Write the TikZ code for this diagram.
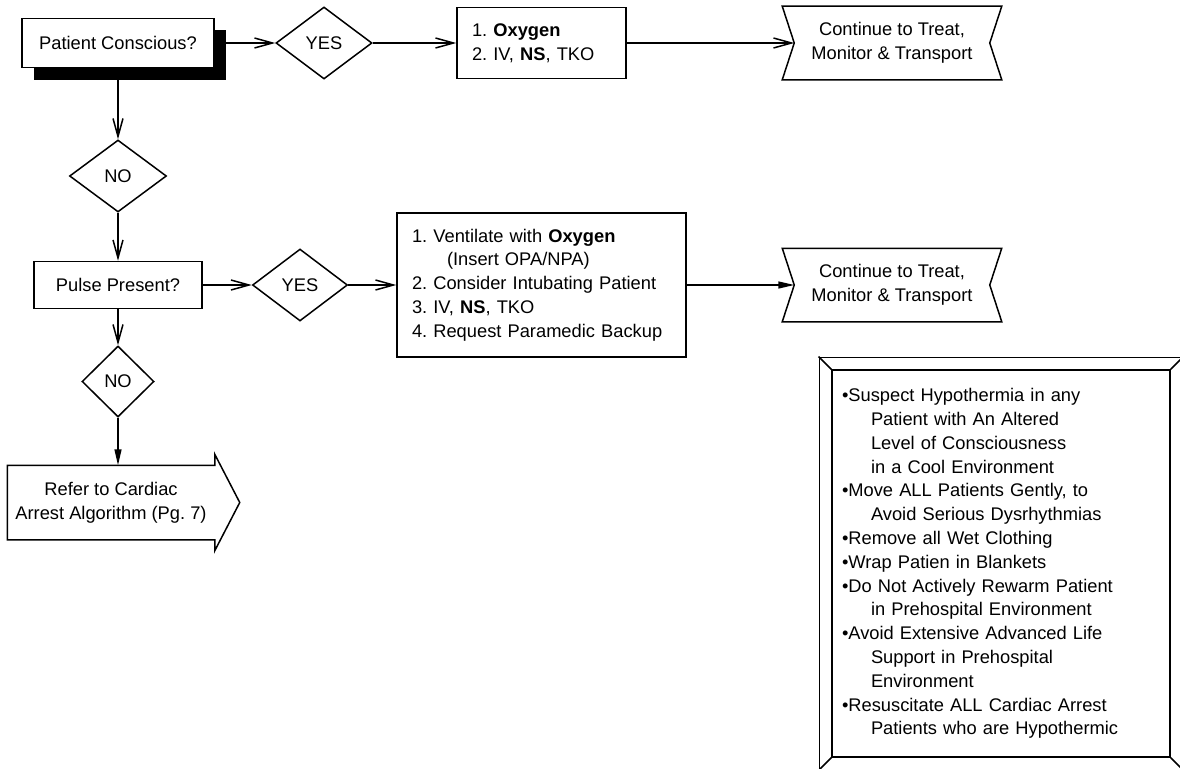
\documentclass[tikz,border=0pt]{standalone}
\usepackage{fontspec}
\setmainfont{Liberation Sans}
\usetikzlibrary{shapes.geometric, positioning, fit, arrows.meta, calc, shadows}
\newcommand{\noteindent}{\hspace*{29pt}}
\frenchspacing

\begin{document}
\begin{tikzpicture}[
    x=1pt, y=-1pt,
    >={Straight Barb[length=18pt, width=10pt]},
    line width=1.5pt,
    font=\fontsize{18.3}{23.8}\selectfont\frenchspacing,
    proc/.style={draw, rectangle, fill=white, align=center, inner sep=0pt},
    list/.style={draw, rectangle, fill=white, align=left, inner xsep=15pt, inner ysep=0pt},
    decision/.style={draw, diamond, fill=white, inner sep=0pt},
    cont/.style={minimum width=218pt, minimum height=72pt, align=center, inner sep=0pt},
    shut/.style={-{Triangle[length=16pt, width=7pt]}}
]
\useasboundingbox (0,0) rectangle (1180,768);

% top row
\node[proc, minimum width=192pt, minimum height=49pt, drop shadow={shadow xshift=12pt, shadow yshift=-12pt, fill=black, opacity=1}] (conscious) at (118,43) {Patient Conscious?};
\node[decision, minimum width=96pt, minimum height=72pt] (yes1) at (324,43) {YES};
\node[list, text width=139pt, minimum height=71pt] (oxygen) at (541.5,43) {1. \textbf{Oxygen}\\2. IV, \textbf{NS}, TKO};
\node[cont] (treat1) at (892,43) {Continue to Treat,\\Monitor \& Transport};
\draw (treat1.north west) -- (treat1.north east) -- ($(treat1.east)+(-12,0)$) -- (treat1.south east) -- (treat1.south west) -- ($(treat1.west)+(12,0)$) -- cycle;
\coordinate (treat1in) at ($(treat1.west)+(12,0)$);

% middle row
\node[decision, minimum width=97pt, minimum height=72pt] (no1) at (118,176) {NO};
\node[proc, minimum width=168pt, minimum height=47pt] (pulse) at (118,285) {Pulse Present?};
\node[decision, minimum width=95pt, minimum height=72pt] (yes2) at (300,285) {YES};
\node[list, text width=259pt, minimum height=144pt] (ventilate) at (541.5,285) {1. Ventilate with \textbf{Oxygen}\\
\hspace*{35pt}(Insert OPA/NPA)\\
2. Consider Intubating Patient\\
3. IV, \textbf{NS}, TKO\\
4. Request Paramedic Backup};
\node[cont] (treat2) at (892,285) {Continue to Treat,\\Monitor \& Transport};
\draw (treat2.north west) -- (treat2.north east) -- ($(treat2.east)+(-12,0)$) -- (treat2.south east) -- (treat2.south west) -- ($(treat2.west)+(12,0)$) -- cycle;
\coordinate (treat2in) at ($(treat2.west)+(12,0)$);

% bottom
\node[decision, minimum width=72pt, minimum height=71pt] (no2) at (118,381.5) {NO};
\node[align=center, minimum width=206pt, minimum height=73pt, inner sep=0pt] (cardiac) at (111,502.5) {Refer to Cardiac\\Arrest Algorithm (Pg. 7)};
\draw (cardiac.north west) -- (cardiac.north east) -- ++(0,-11) -- ($(cardiac.east)+(25,0)$) -- ($(cardiac.south east)+(0,11)$) -- (cardiac.south east) -- (cardiac.south west) -- cycle;

% note
\node[draw, align=left, text width=318pt, inner xsep=10pt, inner ysep=0pt, minimum height=387pt] (hypo) at (1001,563.5) {%
\textbullet Suspect Hypothermia in any\\
\noteindent Patient with An Altered\\
\noteindent Level of Consciousness\\
\noteindent in a Cool Environment\\
\textbullet Move ALL Patients Gently, to\\
\noteindent Avoid Serious Dysrhythmias\\
\textbullet Remove all Wet Clothing\\
\textbullet Wrap Patien in Blankets\\
\textbullet Do Not Actively Rewarm Patient\\
\noteindent in Prehospital Environment\\
\textbullet Avoid Extensive Advanced Life\\
\noteindent Support in Prehospital\\
\noteindent Environment\\
\textbullet Resuscitate ALL Cardiac Arrest\\
\noteindent Patients who are Hypothermic};
\node[draw, fit=(hypo), inner sep=12pt] (hypoframe) {};
\foreach \c in {north west, north east, south west, south east}
    \draw (hypo.\c) -- (hypoframe.\c);

% connectors
\draw[->] (conscious) -- (yes1);
\draw[->] (yes1) -- (oxygen);
\draw[->] (oxygen) -- (treat1in);
\draw[->] (conscious) -- (no1);
\draw[->] (no1) -- (pulse);
\draw[->] (pulse) -- (yes2);
\draw[->] (yes2) -- (ventilate);
\draw[shut] (ventilate) -- (treat2in);
\draw[->] (pulse) -- (no2);
\draw[shut] (no2) -- (no2.south |- cardiac.north);
\end{tikzpicture}
\end{document}
